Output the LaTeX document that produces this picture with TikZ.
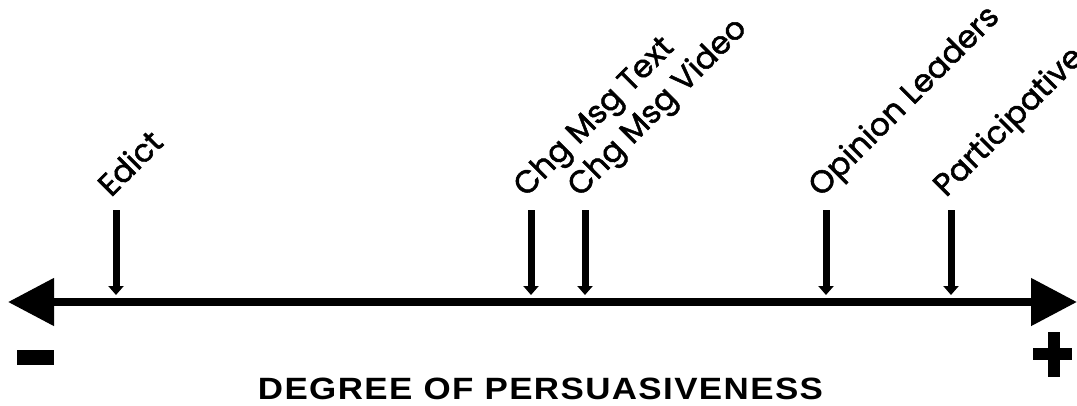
\documentclass[tikz,border=0pt]{standalone}
\usepackage{fontspec}
\usepackage{graphicx}
\setmainfont{Liberation Sans}
\newfontfamily\labfont{Poppins}[FakeBold=1.6]
\usetikzlibrary{arrows.meta}
\tikzset{
  axisline/.style={line width=8pt, {Triangle[length=46pt,width=46pt]}-{Triangle[length=46pt,width=46pt]}},
  marker/.style={line width=7pt, -{Triangle[length=9pt,width=15pt]}},
  lab/.style={font=\labfont\fontsize{31.5}{33}\selectfont, rotate=45, anchor=base west, inner sep=0pt},
  sign/.style={fill=black, draw=none, inner sep=0pt},
}
\begin{document}
\begin{tikzpicture}[x=1pt,y=-1pt]
\useasboundingbox (0,0) rectangle (1077,405);
% axis
\coordinate (L) at (8,302);
\coordinate (R) at (1077,302);
\draw[axisline] (L) -- (R);
% labels
\node[lab] (edict) at (111,198) {Edict};
\node[lab] (cmt) at (526,198) {Chg Msg Text};
\node[lab] (cmv) at (580,198) {Chg Msg Video};
\node[lab] (opl) at (821,198) {Opinion Leaders};
\node[lab] (par) at (946,198) {Participative};
% marker arrows
\foreach \n/\x in {e/116, t/531, v/585, o/826, p/951}{
  \coordinate (\n top) at (\x,210);
  \coordinate (\n bot) at (\x,295);
  \draw[marker] (\n top) -- (\n bot);
}
% signs
\node[sign, minimum width=37pt, minimum height=15pt] (minus) at (35.5,357.5) {};
\node[sign, minimum width=39pt, minimum height=12pt] (plush) at (1052.5,354) {};
\node[sign, minimum width=12pt, minimum height=45pt] (plusv) at (1054,354.5) {};
% title
\node[inner sep=0pt, anchor=base] (title) at (540.5,399)
  {\resizebox{565pt}{21.5pt}{\bfseries\addfontfeature{LetterSpace=4}DEGREE OF PERSUASIVENESS}};
\end{tikzpicture}
\end{document}
